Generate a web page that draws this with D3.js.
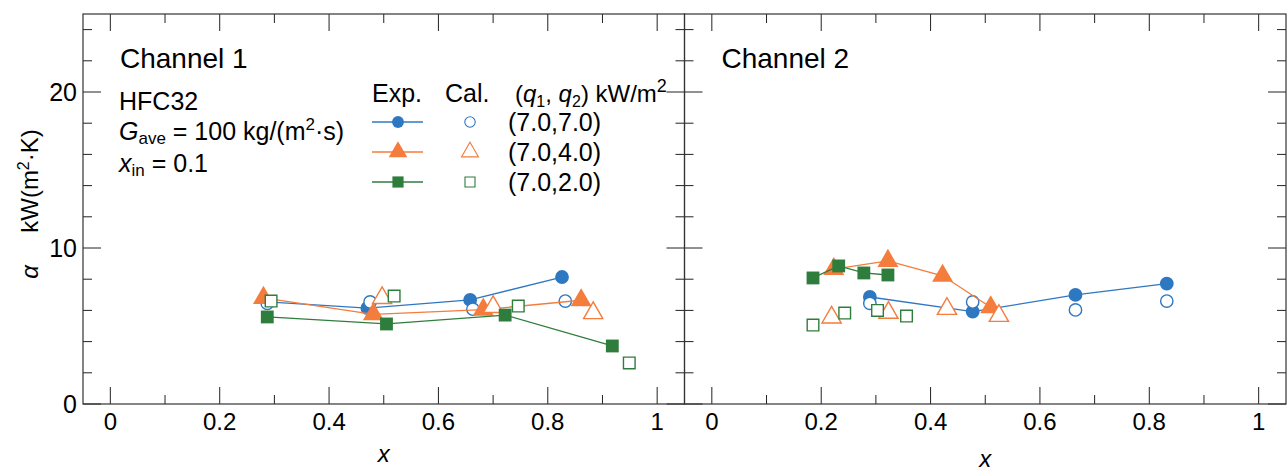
<!DOCTYPE html>
<html>
<head>
<meta charset="utf-8">
<script src="https://cdn.jsdelivr.net/npm/d3@7"></script>
<style>
  body { margin: 0; background: #fff; }
  svg { font-family: "Liberation Sans", Arial, sans-serif; }
</style>
</head>
<body>
<svg id="chart" width="1287" height="471"></svg>
<script>
// data, [x, alpha]
const seriesNames = ["(7.0,7.0)", "(7.0,4.0)", "(7.0,2.0)"];
const xTicks = [0, 0.2, 0.4, 0.6, 0.8, 1];
const yTicks = [0, 10, 20];

const ch1Exp77 = [[0.287, 6.55], [0.470, 6.15], [0.658, 6.67], [0.826, 8.14]];
const ch1Cal77 = [[0.287, 6.45], [0.475, 6.54], [0.663, 6.08], [0.832, 6.6]];
const ch1Exp74 = [[0.280, 6.8], [0.481, 5.75], [0.682, 6.05], [0.861, 6.65]];
const ch1Cal74 = [[0.497, 6.8], [0.700, 6.22], [0.883, 5.83]];
const ch1Exp72 = [[0.287, 5.58], [0.505, 5.13], [0.722, 5.7], [0.918, 3.72]];
const ch1Cal72 = [[0.294, 6.6], [0.519, 6.92], [0.746, 6.28], [0.949, 2.63]];

const ch2Exp77 = [[0.289, 6.86], [0.477, 5.92], [0.665, 6.99], [0.832, 7.72]];
const ch2Cal77 = [[0.289, 6.45], [0.477, 6.54], [0.665, 6.03], [0.832, 6.6]];
const ch2Exp74 = [[0.223, 8.65], [0.322, 9.17], [0.422, 8.22], [0.510, 6.2]];
const ch2Cal74 = [[0.219, 5.55], [0.323, 5.85], [0.430, 6.1], [0.525, 5.65]];
const ch2Exp72 = [[0.185, 8.08], [0.232, 8.85], [0.278, 8.4], [0.322, 8.27]];
const ch2Cal72 = [[0.185, 5.06], [0.243, 5.83], [0.303, 6.0], [0.356, 5.64]];

const colors = ["#2e78c2", "#f47c3c", "#2f7d3c"];
const shapes = [d3.symbolCircle, d3.symbolTriangle, d3.symbolSquare];
const sizes = [150, 190, 165];

let svg = d3.select("#chart");
let plotTop = 14, plotBottom = 404;
let y = d3.scaleLinear().domain([0, 25]).range([plotBottom, plotTop]);

function drawPanel(left, right, title, exps, cals, xLabelY) {
    let x = d3.scaleLinear().domain([-0.05, 1.05]).range([left, right]);
    let g = svg.append("g");

    let minorX = d3.range(0, 1.01, 0.1);
    let minorY = d3.range(0, 25, 2);

    // ticks, all pointing inward
    g.selectAll(".xb").data(minorX).enter().append("line")
        .attr("x1", d => x(d)).attr("x2", d => x(d))
        .attr("y1", plotBottom).attr("y2", (d, i) => plotBottom - (i % 2 == 0 ? 17 : 9))
        .attr("stroke", "#222").attr("stroke-width", 1);
    g.selectAll(".xt").data(minorX).enter().append("line")
        .attr("x1", d => x(d)).attr("x2", d => x(d))
        .attr("y1", plotTop).attr("y2", (d, i) => plotTop + (i % 2 == 0 ? 17 : 9))
        .attr("stroke", "#222").attr("stroke-width", 1);
    g.selectAll(".yl").data(minorY).enter().append("line")
        .attr("x1", left).attr("x2", d => left + (d % 10 == 0 ? 18 : 9))
        .attr("y1", d => y(d)).attr("y2", d => y(d))
        .attr("stroke", "#222").attr("stroke-width", 1);
    g.selectAll(".yr").data(minorY).enter().append("line")
        .attr("x1", right).attr("x2", d => right - (d % 10 == 0 ? 18 : 9))
        .attr("y1", d => y(d)).attr("y2", d => y(d))
        .attr("stroke", "#222").attr("stroke-width", 1);

    // frame
    g.append("rect").attr("x", left).attr("y", plotTop)
        .attr("width", right - left).attr("height", plotBottom - plotTop)
        .attr("fill", "none").attr("stroke", "#333").attr("stroke-width", 1.2);

    // x tick labels
    g.selectAll(".xl").data(xTicks).enter().append("text")
        .attr("x", d => x(d)).attr("y", 430)
        .attr("text-anchor", "middle").attr("font-size", 24)
        .text(d => d3.format("~g")(d));

    g.append("text").attr("x", x(0.5)).attr("y", xLabelY)
        .attr("text-anchor", "middle").attr("font-size", 24)
        .attr("font-style", "italic").text("x");

    g.append("text").attr("x", left + 37).attr("y", 68)
        .attr("font-size", 28).text(title);

    // experimental lines + filled markers, then calculated open markers
    for (let s = 0; s < 3; s++) {
        let line = d3.line().x(d => x(d[0])).y(d => y(d[1]));
        g.append("path").datum(exps[s]).attr("d", line)
            .attr("fill", "none").attr("stroke", colors[s]).attr("stroke-width", 1.3);
        g.selectAll(".e" + s).data(exps[s]).enter().append("path")
            .attr("transform", d => "translate(" + x(d[0]) + "," + y(d[1]) + ")")
            .attr("d", d3.symbol().type(shapes[s]).size(sizes[s]))
            .attr("fill", colors[s]);
        g.selectAll(".c" + s).data(cals[s]).enter().append("path")
            .attr("transform", d => "translate(" + x(d[0]) + "," + y(d[1]) + ")")
            .attr("d", d3.symbol().type(shapes[s]).size(sizes[s] - 30))
            .attr("fill", "#fff").attr("stroke", colors[s]).attr("stroke-width", 1.4);
    }
    return x;
}

drawPanel(83, 684.5, "Channel 1", [ch1Exp77, ch1Exp74, ch1Exp72], [ch1Cal77, ch1Cal74, ch1Cal72], 462);
drawPanel(684.5, 1286, "Channel 2", [ch2Exp77, ch2Exp74, ch2Exp72], [ch2Cal77, ch2Cal74, ch2Cal72], 467);

// y tick labels
svg.selectAll(".yt").data(yTicks).enter().append("text")
    .attr("x", 77).attr("y", d => y(d) + 9)
    .attr("text-anchor", "end").attr("font-size", 25)
    .text(d => d);

// y axis title: alpha and unit sit apart
svg.append("text")
    .attr("transform", "translate(38,272)rotate(-90)")
    .attr("text-anchor", "middle").attr("font-size", 24)
    .attr("font-style", "italic").text("α");
let yt = svg.append("text")
    .attr("transform", "translate(38,181)rotate(-90)")
    .attr("text-anchor", "middle").attr("font-size", 24);
yt.append("tspan").text("kW(m");
yt.append("tspan").attr("dy", -9).attr("font-size", 16).text("2");
yt.append("tspan").attr("dy", 9).text("·K)");

// conditions text
svg.append("text").attr("x", 119).attr("y", 110).attr("font-size", 25).text("HFC32");
let gt = svg.append("text").attr("x", 119).attr("y", 140).attr("font-size", 25);
gt.append("tspan").attr("font-style", "italic").text("G");
gt.append("tspan").attr("dy", 4).attr("font-size", 17).text("ave");
gt.append("tspan").attr("dy", -4).text(" = 100 kg/(m");
gt.append("tspan").attr("dy", -10).attr("font-size", 17).text("2");
gt.append("tspan").attr("dy", 10).text("·s)");
let xt = svg.append("text").attr("x", 119).attr("y", 172).attr("font-size", 25);
xt.append("tspan").attr("font-style", "italic").text("x");
xt.append("tspan").attr("dy", 4).attr("font-size", 17).text("in");
xt.append("tspan").attr("dy", -4).text(" = 0.1");

// legend
svg.append("text").attr("x", 372).attr("y", 102).attr("font-size", 25).text("Exp.");
svg.append("text").attr("x", 445).attr("y", 102).attr("font-size", 25).text("Cal.");
let qt = svg.append("text").attr("x", 515).attr("y", 102).attr("font-size", 24);
qt.append("tspan").text("(");
qt.append("tspan").attr("font-style", "italic").text("q");
qt.append("tspan").attr("dy", 5).attr("font-size", 16).text("1");
qt.append("tspan").attr("dy", -5).text(", ");
qt.append("tspan").attr("font-style", "italic").text("q");
qt.append("tspan").attr("dy", 5).attr("font-size", 16).text("2");
qt.append("tspan").attr("dy", -5).text(") kW/m");
qt.append("tspan").attr("dy", -10).attr("font-size", 18).text("2");

let legRows = [122, 152, 182];
seriesNames.forEach(function(name, s) {
    let ly = legRows[s];
    svg.append("line").attr("x1", 372).attr("x2", 423).attr("y1", ly).attr("y2", ly)
        .attr("stroke", colors[s]).attr("stroke-width", 1.3);
    svg.append("path").attr("transform", "translate(398," + ly + ")")
        .attr("d", d3.symbol().type(shapes[s]).size(sizes[s] - 40))
        .attr("fill", colors[s]);
    svg.append("path").attr("transform", "translate(470," + ly + ")")
        .attr("d", d3.symbol().type(shapes[s]).size(sizes[s] - 65))
        .attr("fill", "#fff").attr("stroke", colors[s]).attr("stroke-width", 1.1);
    svg.append("text").attr("x", 508).attr("y", ly + 9).attr("font-size", 25).text(name);
});
</script>
</body>
</html>
